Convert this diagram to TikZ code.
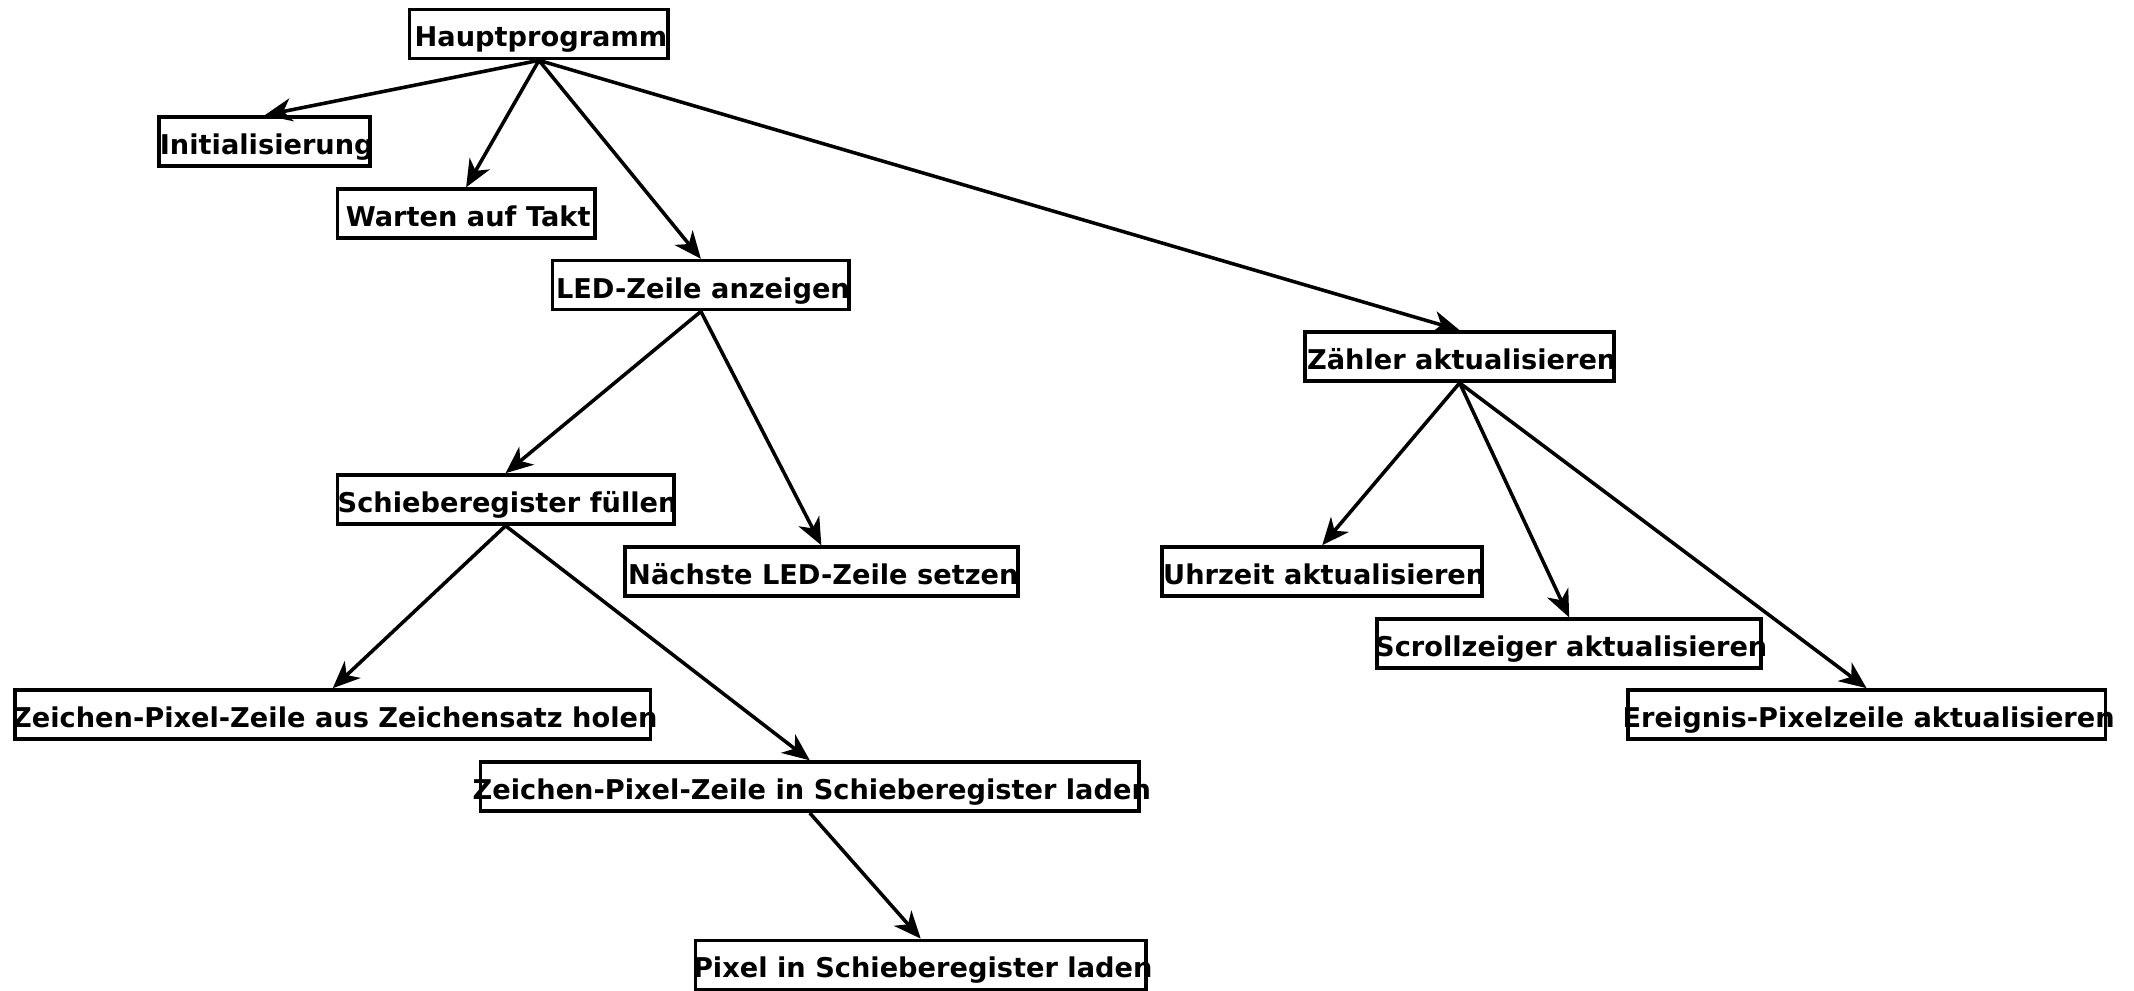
\documentclass[tikz,border=0pt]{standalone}
\usepackage{fontspec}
\setmainfont{DejaVu Sans}
\usetikzlibrary{arrows.meta}
\newcommand{\tx}[1]{\makebox[0pt]{\hspace{3pt}\raisebox{0pt}[19pt][0pt]{#1}}}
\tikzset{
  box/.style={draw, line width=2.7pt, minimum height=36pt, inner sep=0pt, font=\fontsize{20}{23}\selectfont\bfseries},
  arr/.style={line width=2.6pt, -{Stealth[length=20pt,width=17pt,inset=6pt]}}
}
\begin{document}
\begin{tikzpicture}[x=1pt,y=-1pt]
\useasboundingbox (0,0) rectangle (1568,728);
\node[box, minimum width=190pt] (hp) at (396,25) {\tx{Hauptprogramm}};
\node[box, minimum width=155pt] (init) at (194.5,104) {\tx{Initialisierung}};
\node[box, minimum width=189pt] (wart) at (342.5,157) {\tx{Warten auf Takt}};
\node[box, minimum width=218pt] (led) at (515,209.5) {\tx{LED-Zeile anzeigen}};
\node[box, minimum width=227pt] (zae) at (1072.5,262) {\tx{Zähler aktualisieren}};
\node[box, minimum width=247pt] (sch) at (371.5,367) {\tx{Schieberegister füllen}};
\node[box, minimum width=289pt] (nae) at (603.5,420) {\tx{Nächste LED-Zeile setzen}};
\node[box, minimum width=235pt] (uhr) at (971.5,420) {\tx{Uhrzeit aktualisieren}};
\node[box, minimum width=282pt] (scr) at (1153,473) {\tx{Scrollzeiger aktualisieren}};
\node[box, minimum width=351pt] (ere) at (1371.5,525) {\tx{Ereignis-Pixelzeile aktualisieren}};
\node[box, minimum width=467pt] (zpa) at (244.5,525) {\tx{Zeichen-Pixel-Zeile aus Zeichensatz holen}};
\node[box, minimum width=484pt] (zpi) at (595,578) {\tx{Zeichen-Pixel-Zeile in Schieberegister laden}};
\node[box, minimum width=331pt] (pix) at (676.5,709) {\tx{Pixel in Schieberegister laden}};
\draw[arr] (hp.south) -- (init.north);
\draw[arr] (hp.south) -- (wart.north);
\draw[arr] (hp.south) -- (led.north);
\draw[arr] (hp.south) -- (zae.north);
\draw[arr] (led.south) -- (sch.north);
\draw[arr] (led.south) -- (nae.north);
\draw[arr] (sch.south) -- (zpa.north);
\draw[arr] (sch.south) -- (zpi.north);
\draw[arr] (zpi.south) -- (pix.north);
\draw[arr] (zae.south) -- (uhr.north);
\draw[arr] (zae.south) -- (scr.north);
\draw[arr] (zae.south) -- (ere.north);
\end{tikzpicture}
\end{document}
